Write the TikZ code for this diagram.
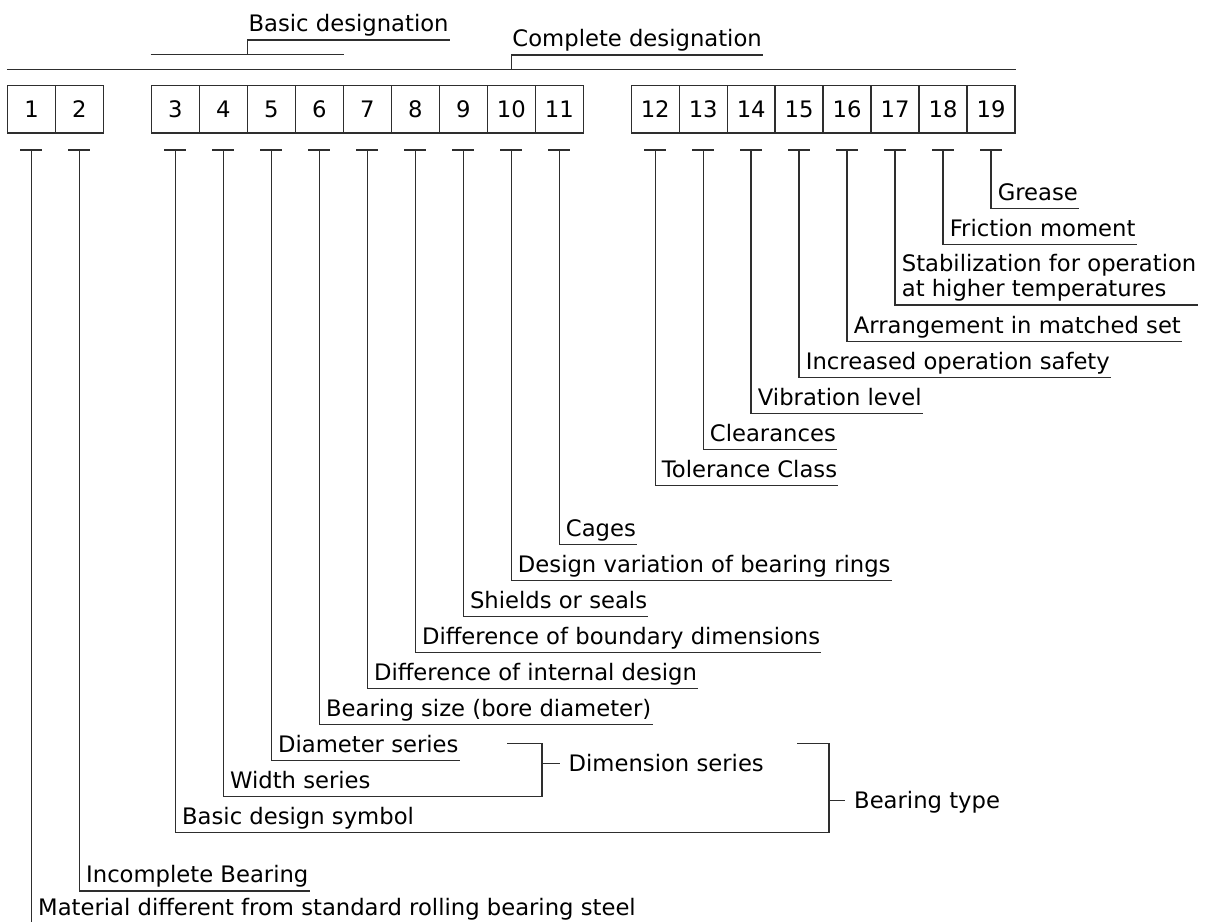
\documentclass[tikz,border=0pt]{standalone}
\usepackage{fontspec}
\setmainfont{DejaVu Sans}
\usetikzlibrary{calc}
\begin{document}
\begin{tikzpicture}[x=1pt,y=-1pt,
  ln/.style={draw=black!82, line width=1.4pt},
  numbox/.style={draw=black!82, line width=1.4pt, minimum width=47.98pt, minimum height=47.3pt, inner sep=0pt, font=\fontsize{22.7}{25}\selectfont},
  lbl/.style={anchor=base west, inner sep=0pt, font=\fontsize{22.7}{25}\selectfont},
]
\useasboundingbox (0,0) rectangle (1213,922);

% boxes and ticks
\foreach \n/\s in {1/0,2/1,3/3,4/4,5/5,6/6,7/7,8/8,9/9,10/10,11/11,12/13,13/14,14/15,15/16,16/17,17/18,18/19,19/20} {
  \node[numbox] (b\n) at ({7.5+(\s+0.5)*47.98},109.35) {\n};
  \coordinate (t\n) at ({7.5+(\s+0.5)*47.98},150);
  \draw[ln] ($(t\n)+(-11,0)$) -- ($(t\n)+(11,0)$);
}

% complete designation
\coordinate (mainL) at (b1.north west |- 0,69.3);
\coordinate (mainR) at (b19.north east |- 0,69.3);
\draw[ln] (mainL) -- (mainR);
\coordinate (cdm) at (b10.center |- 0,69.3);
\node[lbl] (cd) at ([xshift=1pt]cdm |- 0,46.7) {Complete designation};
\draw[ln] (cdm) |- ([xshift=1pt]cd.base east |- 0,55);

% basic designation
\coordinate (bdL) at (b3.north west |- 0,54.3);
\coordinate (bdR) at (b6.north east |- 0,54.3);
\draw[ln] (bdL) -- (bdR);
\coordinate (bdm) at ($(bdL)!0.5!(bdR)$);
\node[lbl] (bd) at ([xshift=1pt]bdm |- 0,31.7) {Basic designation};
\draw[ln] (bdm) |- ([xshift=1pt]bd.base east |- 0,40);

% simple labels
\foreach \n/\u/\txt in {19/208.3/Grease, 18/244.3/Friction moment, 16/341.5/Arrangement in matched set, 15/377.5/Increased operation safety, 14/413.5/Vibration level, 13/449.5/Clearances, 12/485.7/Tolerance Class, 11/544.7/Cages, 10/580.7/Design variation of bearing rings, 9/616.7/Shields or seals, 8/652.7/Difference of boundary dimensions, 7/688.7/Difference of internal design, 6/724.7/Bearing size (bore diameter), 5/760.7/Diameter series, 2/891/Incomplete Bearing} {
  \pgfmathsetmacro\bl{\u-8.3}
  \node[lbl] (l\n) at ([xshift=6.5pt]t\n |- 0,\bl) {\txt};
  \draw[ln] (t\n) |- ([xshift=1pt]l\n.base east |- 0,\u);
}

% two-line label
\node[lbl] (l17) at ([xshift=6.5pt]t17 |- 0,271.7) {Stabilization for operation};
\node[lbl] (l17b) at ([xshift=6.5pt]t17 |- 0,296.7) {at higher temperatures};
\draw[ln] (t17) |- ([xshift=1pt]l17.base east |- 0,305);

% width series + dimension series bracket
\node[lbl] (l4) at ([xshift=6.5pt]t4 |- 0,788.4) {Width series};
\coordinate (dimB) at (541.9,796.7);
\coordinate (dimT) at (541.9,743.3);
\coordinate (dimL) at (506.7,743.3);
\coordinate (dimM) at (541.9,763.3);
\draw[ln] (t4) |- (dimB) -- (dimT) -- (dimL);
\node[lbl] (dimtxt) at (568.5,771.7) {Dimension series};
\draw[ln] (dimM) -- ([xshift=-9pt]dimtxt.base west |- dimM);

% basic design symbol + bearing type bracket
\node[lbl] (l3) at ([xshift=6.5pt]t3 |- 0,824.4) {Basic design symbol};
\coordinate (btB) at (829,832.7);
\coordinate (btT) at (829,743.3);
\coordinate (btL) at (797,743.3);
\coordinate (btM) at (829,800.5);
\draw[ln] (t3) |- (btB) -- (btT) -- (btL);
\node[lbl] (bttxt) at (854,808.3) {Bearing type};
\draw[ln] (btM) -- ([xshift=-9pt]bttxt.base west |- btM);

% material
\node[lbl] (l1) at ([xshift=6.5pt]t1 |- 0,915) {Material different from standard rolling bearing steel};
\draw[ln] (t1) -- (t1 |- 0,922);
\end{tikzpicture}
\end{document}
